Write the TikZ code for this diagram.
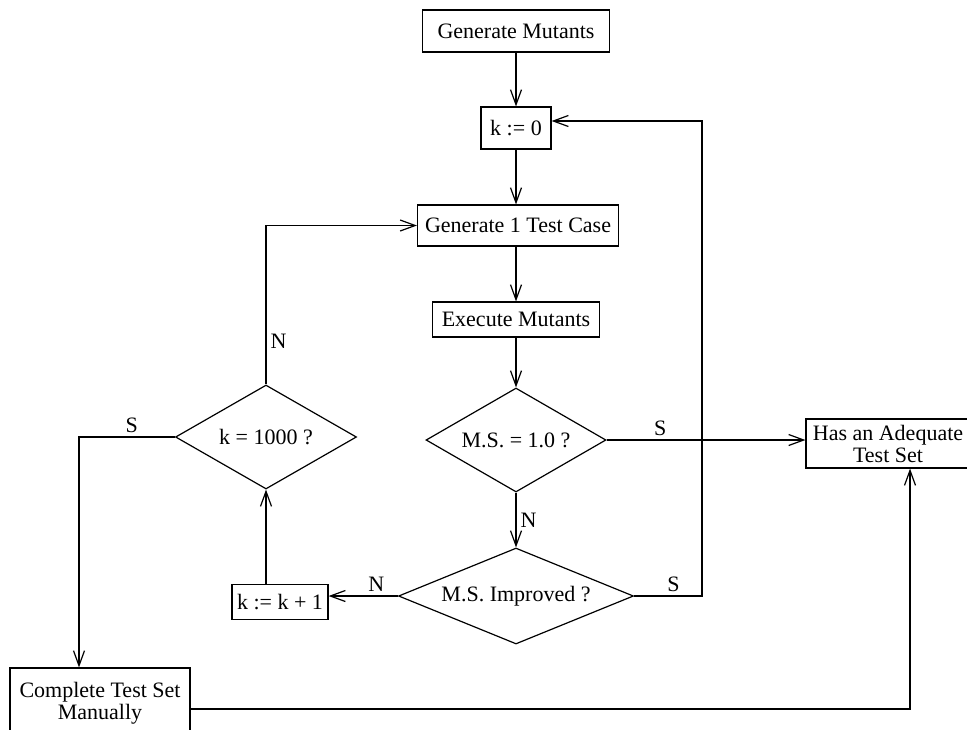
\documentclass[tikz,border=0pt]{standalone}
\usepackage{fontspec}
\setmainfont{Liberation Serif}
\usetikzlibrary{shapes.geometric, arrows.meta, calc}

\begin{document}
\begin{tikzpicture}[x=0.5pt, y=-0.5pt, line width=0.6pt,
    font=\fontsize{11}{11}\selectfont,
    >={Straight Barb[length=7.5pt, width=5.5pt]},
    box/.style={draw, rectangle, inner sep=0pt, align=center},
    test/.style={draw, diamond, inner sep=0pt, aspect=2},
    lbl/.style={inner sep=2pt}]
    \useasboundingbox (0,0) rectangle (967,729);
    % Boxes of the main column
    \node[box, minimum width=93.5pt, minimum height=21pt]   (gen)   at (516,31)    {Generate Mutants};
    \node[box, minimum width=35pt, minimum height=21pt]     (kzero) at (516,128)   {k := 0};
    \node[box, minimum width=100.5pt, minimum height=20.5pt] (gentc) at (518,225.5) {Generate 1 Test Case};
    \node[box, minimum width=83.5pt, minimum height=17.5pt] (exec)  at (516,319.5) {Execute Mutants};
    % Tests
    \node[test, minimum width=90pt, minimum height=52pt]    (msone) at (516,440)   {M.S. = 1.0 ?};
    \node[test, minimum width=117.5pt, minimum height=48pt] (msimp) at (516,596)   {M.S. Improved ?};
    \node[test, minimum width=90.5pt, minimum height=52pt]  (kmax)  at (266,437)   {k = 1000 ?};
    % Side boxes
    \node[box, minimum width=48pt, minimum height=17.5pt]   (kinc)  at (280,602)   {k := k + 1};
    \node[box, minimum width=82pt, minimum height=24.5pt]   (adequate) at (888,443.5) {Has an Adequate\\Test Set};
    \node[box, minimum width=90pt, minimum height=35pt]     (manual) at (100,703)  {Complete Test Set\\Manually};
    % Corners of the loops
    \coordinate (back)  at (702,596);
    \coordinate (bottom) at (910,709);
    % Main flow
    \draw[->] (gen) -- (kzero);
    \draw[->] (kzero) -- (kzero |- gentc.north);
    \draw[->] (gentc.south -| exec) -- (exec);
    \draw[->] (exec) -- (msone);
    \draw[->] (msone.east) -- node[lbl, pos=0.27, above] (s1) {S} (msone.east -| adequate.west);
    \draw[->] (msone) -- node[lbl, right] (n1) {N} (msimp);
    % Improved: back to k := 0
    \draw[->] (msimp.east) -- node[lbl, pos=0.58, above] (s2) {S} (back) |- ([yshift=3.5pt]kzero.east);
    \draw[->] (msimp.west) -- node[lbl, pos=0.31, above] (n2) {N} (msimp.west -| kinc.east);
    \draw[->] (kmax.south |- kinc.north) -- (kmax.south);
    \draw[->] (kmax.north) -- node[lbl, pos=0.27, right] (n3) {N} (kmax.north |- gentc.west) -- (gentc.west);
    \draw[->] (kmax.west) -- node[lbl, pos=0.45, above] (s3) {S} ([xshift=-10.5pt]kmax.west -| manual.north) -- ([xshift=-10.5pt]manual.north);
    \draw[->] ([yshift=-3pt]manual.east) -- (bottom) -- (bottom |- adequate.south);
\end{tikzpicture}
\end{document}
